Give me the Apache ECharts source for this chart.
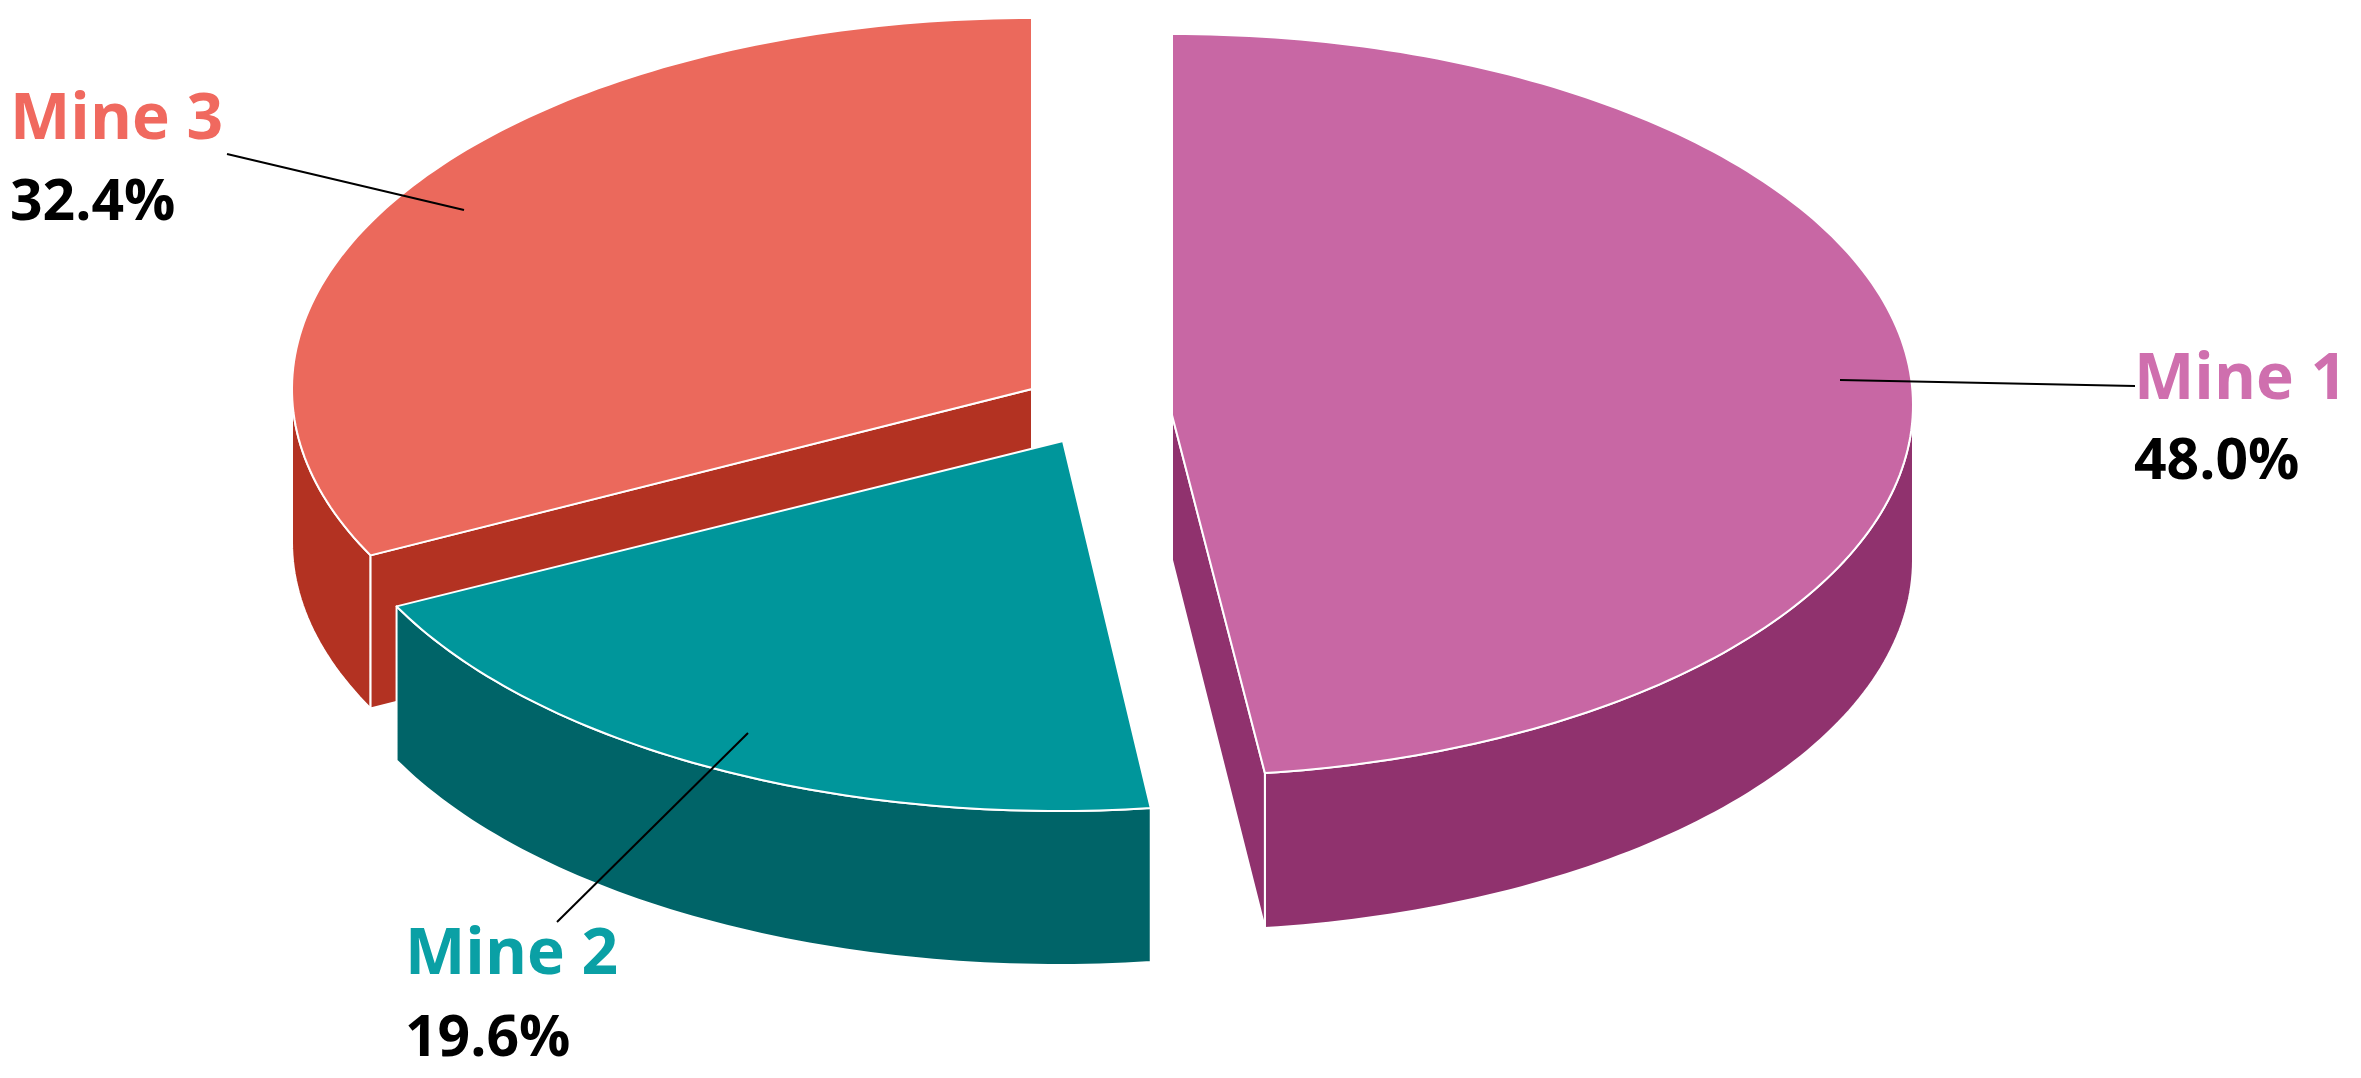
<!DOCTYPE html>
<html>
<head>
<meta charset="utf-8">
<style>
  html, body { margin: 0; height: 100%; background: #fff; }
  #chart { width: 2361px; height: 1078px; }
</style>
</head>
<body>
<div id="chart"></div>
<script src="https://cdn.jsdelivr.net/npm/echarts@6/dist/echarts.min.js"></script>
<script>
const mineNames = ['Mine 1', 'Mine 2', 'Mine 3'];
const mineValues = [48.0, 19.6, 32.4];

const topColors = ['#C867A4', '#00969B', '#EB695C'];
const sideColors = ['#90326E', '#006468', '#B33222'];
const labelColors = ['#CF6FAE', '#0AA0A5', '#F0695F'];

// each slice is exploded, so it has its own ellipse
const ellipses = [
  { cx: 1172, cy: 405, rx: 741, ry: 371, apexX: 1172, apexY: 415, depth: 155, apexDepth: 145 },
  { cx: 1058, cy: 440, rx: 740, ry: 371, apexX: 1063, apexY: 441, depth: 154, apexDepth: 154 },
  { cx: 1032, cy: 389, rx: 740, ry: 371, apexX: 1032, apexY: 389, depth: 153, apexDepth: 153 }
];
const drawOrder = [1, 2, 0];  // by data index: Mine 3 at the back, Mine 2 in front

const labelPlaces = [
  { x: 2134, nameY: 381, valueY: 463 },
  { x: 405, nameY: 956, valueY: 1040 },
  { x: 10, nameY: 121, valueY: 204 }
];
const leaderLines = [
  [1840, 380, 2135, 386],
  [748, 733, 557, 922],
  [464, 210, 227, 154]
];

const total = mineValues.reduce((a, b) => a + b, 0);

function rimPoint(e, deg, drop) {
  const a = deg * Math.PI / 180;
  return [e.cx + e.rx * Math.sin(a), e.cy - e.ry * Math.cos(a) + drop];
}

function arcPoints(e, from, to, drop) {
  const pts = [];
  const steps = Math.max(2, Math.ceil(to - from));
  for (let i = 0; i <= steps; i++) {
    pts.push(rimPoint(e, from + (to - from) * i / steps, drop));
  }
  return pts;
}

function face(points, fill, z2) {
  return {
    type: 'polygon',
    z2: z2,
    shape: { points: points },
    style: { fill: fill, stroke: '#fff', lineWidth: 2, lineJoin: 'round' }
  };
}

function renderSlice(params, api) {
  const i = params.dataIndex;
  const e = ellipses[i];
  const value = api.value(0);
  let start = 0;
  for (let k = 0; k < i; k++) start += mineValues[k];
  const from = start / total * 360;
  const to = from + value / total * 360;
  const base = drawOrder[i] * 10;
  const apex = [e.apexX, e.apexY];
  const apexLow = [e.apexX, e.apexY + e.apexDepth];
  const children = [];

  // outer wall, only the front half of the rim shows
  const wallFrom = Math.max(from, 90);
  const wallTo = Math.min(to, 270);
  if (wallTo > wallFrom) {
    const upper = arcPoints(e, wallFrom, wallTo, 0);
    const lower = arcPoints(e, wallFrom, wallTo, e.depth).reverse();
    children.push(face(upper.concat(lower), sideColors[i], base + 1));
  }
  // cut faces
  if (Math.sin(from * Math.PI / 180) < -0.01) {
    children.push(face([apex, rimPoint(e, from, 0), rimPoint(e, from, e.depth), apexLow], sideColors[i], base + 2));
  }
  if (Math.sin(to * Math.PI / 180) > 0.01) {
    children.push(face([apex, rimPoint(e, to, 0), rimPoint(e, to, e.depth), apexLow], sideColors[i], base + 2));
  }
  // top face
  children.push(face([apex].concat(arcPoints(e, from, to, 0)), topColors[i], base + 3));

  const line = leaderLines[i];
  children.push({
    type: 'line',
    z2: 100,
    shape: { x1: line[0], y1: line[1], x2: line[2], y2: line[3] },
    style: { stroke: '#000', lineWidth: 2 }
  });

  const place = labelPlaces[i];
  children.push({
    type: 'text',
    z2: 101,
    style: {
      x: place.x, y: place.nameY,
      text: mineNames[i],
      fill: labelColors[i],
      font: 'bold 64px "Open Sans"',
      verticalAlign: 'middle'
    }
  });
  children.push({
    type: 'text',
    z2: 101,
    style: {
      x: place.x, y: place.valueY,
      text: value.toFixed(1) + '%',
      fill: '#000',
      font: 'bold 57px "Open Sans"',
      verticalAlign: 'middle'
    }
  });
  return { type: 'group', children: children };
}

const chart = echarts.init(document.getElementById('chart'), null, { renderer: 'canvas' });
chart.setOption({
  animation: false,
  backgroundColor: '#fff',
  series: [{
    type: 'custom',
    coordinateSystem: 'none',
    renderItem: renderSlice,
    data: mineValues.map((v, i) => ({ name: mineNames[i], value: [v] }))
  }]
});
</script>
</body>
</html>
